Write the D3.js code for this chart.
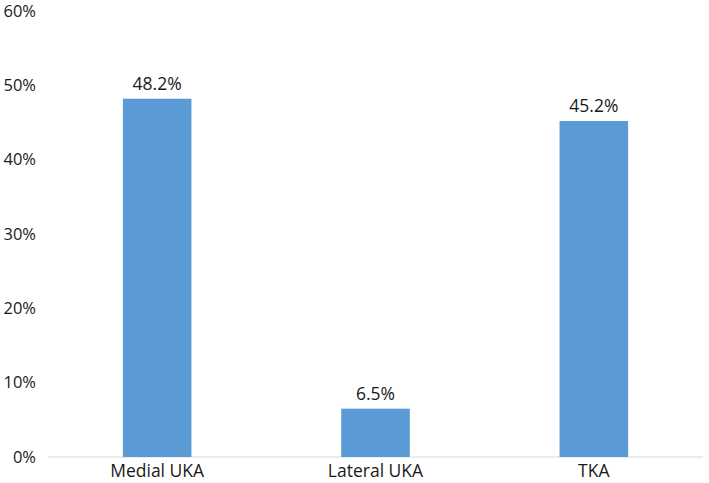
<!DOCTYPE html>
<html>
<head>
<meta charset="utf-8">
<script src="https://cdn.jsdelivr.net/npm/d3@7"></script>
<style>
  body { margin: 0; background: #fff; }
  text { font-family: "Open Sans", "Noto Sans", sans-serif; fill: #1a1a1a; }
</style>
</head>
<body>
<div id="chart"></div>
<script>
// ── DATA ─────────────────────────────────────────────────────────────────────
const categories = ['Medial UKA', 'Lateral UKA', 'TKA'];
const values     = [48.2, 6.5, 45.2];
const yTicks     = [0, 10, 20, 30, 40, 50, 60];

// ── DIMENSIONS ───────────────────────────────────────────────────────────────
const W = 709, H = 483;
const margin = { top: 11, right: 6, bottom: 26, left: 48 };
const width  = W - margin.left - margin.right;
const height = H - margin.top - margin.bottom;

const svg = d3.select('#chart').append('svg')
    .attr('width', W).attr('height', H)
  .append('g')
    .attr('transform', `translate(${margin.left},${margin.top})`);

// ── SCALES ───────────────────────────────────────────────────────────────────
const x = d3.scaleBand().domain(categories).range([0, width])
  .paddingInner(0.686).paddingOuter(0.343);
const y = d3.scaleLinear().domain([0, 60]).range([height, 0]);

// ── AXES ─────────────────────────────────────────────────────────────────────
svg.selectAll('.ytick')
  .data(yTicks)
  .join('text')
    .attr('class', 'ytick')
    .attr('x', -12)
    .attr('y', d => y(d))
    .attr('dy', '0.35em')
    .attr('text-anchor', 'end')
    .attr('font-size', '16.5px')
    .text(d => d + '%');

svg.append('line')
  .attr('x1', 0).attr('x2', width)
  .attr('y1', height).attr('y2', height)
  .attr('stroke', '#d9d9d9')
  .attr('stroke-width', 1);

svg.selectAll('.xlabel')
  .data(categories)
  .join('text')
    .attr('class', 'xlabel')
    .attr('x', d => x(d) + x.bandwidth() / 2)
    .attr('y', height + 20)
    .attr('text-anchor', 'middle')
    .attr('font-size', '17.5px')
    .text(d => d);

// ── BARS ─────────────────────────────────────────────────────────────────────
const data = categories.map((c, i) => ({ cat: c, val: values[i] }));

svg.selectAll('.bar')
  .data(data)
  .join('rect')
    .attr('class', 'bar')
    .attr('x', d => x(d.cat))
    .attr('width', x.bandwidth())
    .attr('y', d => y(d.val))
    .attr('height', d => height - y(d.val))
    .attr('fill', '#5b9bd5');

svg.selectAll('.val')
  .data(data)
  .join('text')
    .attr('class', 'val')
    .attr('x', d => x(d.cat) + x.bandwidth() / 2)
    .attr('y', d => y(d.val) - 9)
    .attr('text-anchor', 'middle')
    .attr('font-size', '17.5px')
    .text(d => d.val.toFixed(1) + '%');
</script>
</body>
</html>
